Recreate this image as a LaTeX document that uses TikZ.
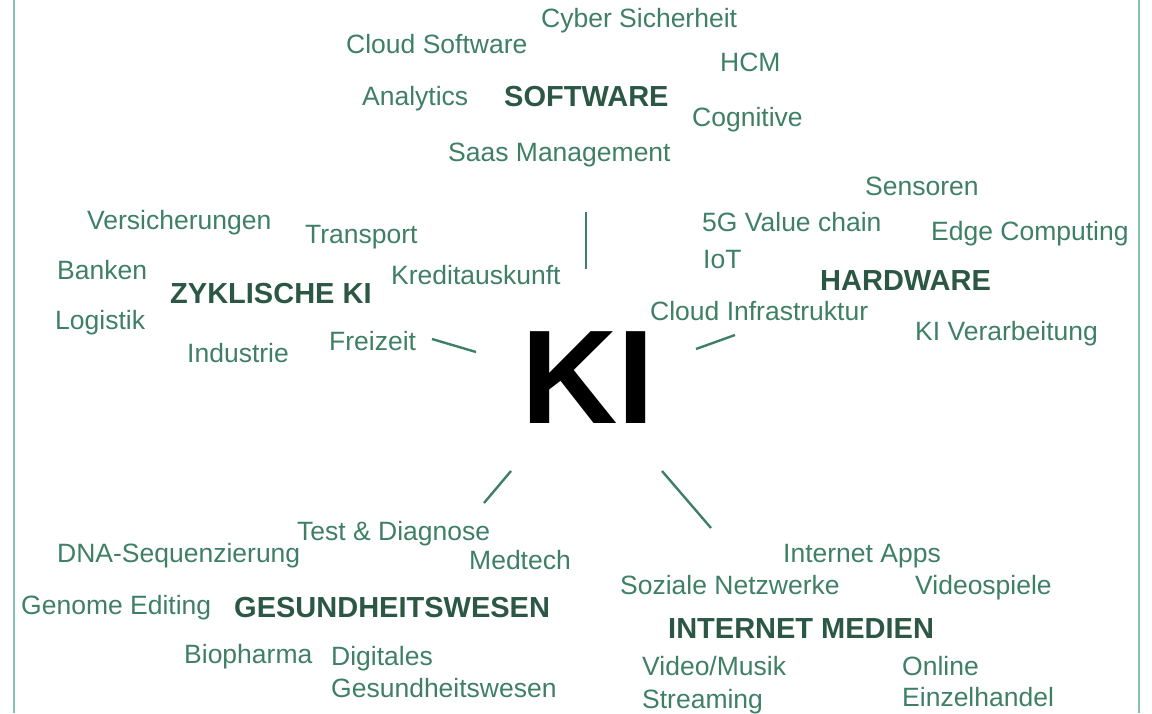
\documentclass[tikz,border=0pt]{standalone}
\usepackage{fontspec}
\setmainfont{Liberation Sans}
\definecolor{tg}{HTML}{3E7F66}
\definecolor{hg}{HTML}{2B5744}
\definecolor{bg}{HTML}{86C2AA}
\begin{document}
\begin{tikzpicture}[x=1pt,y=-1pt,
  lbl/.style={anchor=base west,inner sep=0pt,text=tg,font=\fontsize{26.5}{30}\selectfont},
  head/.style={anchor=base west,inner sep=0pt,text=hg,font=\fontsize{29}{33}\selectfont\bfseries},
  ray/.style={draw=tg,line width=2.4pt},
  frame/.style={draw=bg,line width=2pt}]
\useasboundingbox (0,0) rectangle (1152,713);
% border lines
\coordinate (bl1) at (14,0); \coordinate (bl2) at (14,713);
\coordinate (br1) at (1139,0); \coordinate (br2) at (1139,713);
\draw[frame] (bl1) -- (bl2);
\draw[frame] (br1) -- (br2);
% center
\node[anchor=base west,inner sep=0pt,font=\fontsize{133.5}{140}\selectfont\bfseries] (ki) at (521,423) {KI};
% software
\node[lbl] (cyber) at (541,27) {Cyber Sicherheit};
\node[lbl] (cloudsw) at (346,53) {Cloud Software};
\node[lbl] (hcm) at (720,71) {HCM};
\node[lbl] (analytics) at (362,105) {Analytics};
\node[head] (software) at (504,106) {SOFTWARE};
\node[lbl] (cognitive) at (692,126) {Cognitive};
\node[lbl] (saas) at (448,161) {Saas Management};
% hardware
\node[lbl] (sensoren) at (865,195) {Sensoren};
\node[lbl] (fiveg) at (702,231) {5G Value chain};
\node[lbl] (edge) at (931,240) {Edge Computing};
\node[lbl] (iot) at (703,268) {IoT};
\node[head] (hardware) at (820,290) {HARDWARE};
\node[lbl] (cloudinf) at (650,320) {Cloud Infrastruktur};
\node[lbl] (kiverarb) at (915,340) {KI Verarbeitung};
% zyklische
\node[lbl] (versich) at (87,229) {Versicherungen};
\node[lbl] (transport) at (305,243) {Transport};
\node[lbl] (banken) at (57,279) {Banken};
\node[head] (zykl) at (170,303) {ZYKLISCHE KI};
\node[lbl] (kredit) at (391,284) {Kreditauskunft};
\node[lbl] (logistik) at (55,329) {Logistik};
\node[lbl] (freizeit) at (329,350) {Freizeit};
\node[lbl] (industrie) at (187,362) {Industrie};
% gesundheit
\node[lbl] (test) at (297,540) {Test \& Diagnose};
\node[lbl] (dna) at (57,562) {DNA-Sequenzierung};
\node[lbl] (medtech) at (469,569) {Medtech};
\node[lbl] (genome) at (21,614) {Genome Editing};
\node[head] (gesund) at (234,617) {GESUNDHEITSWESEN};
\node[lbl] (bio) at (184,663) {Biopharma};
\node[lbl] (digi) at (331,665) {Digitales};
\node[lbl] (gesund2) at (331,697) {Gesundheitswesen};
% internet
\node[lbl] (iapps) at (783,562) {Internet Apps};
\node[lbl] (sozial) at (620,594) {Soziale Netzwerke};
\node[lbl] (video) at (915,594) {Videospiele};
\node[head] (internet) at (668,638) {INTERNET MEDIEN};
\node[lbl] (vm) at (642,675) {Video/Musik};
\node[lbl] (stream) at (642,708) {Streaming};
\node[lbl] (online) at (902,675) {Online};
\node[lbl] (einzel) at (902,706) {Einzelhandel};
% rays
\coordinate (r1a) at (586,212); \coordinate (r1b) at (586,269);
\coordinate (r2a) at (696,349); \coordinate (r2b) at (735,335);
\coordinate (r3a) at (432,339); \coordinate (r3b) at (476,352);
\coordinate (r4a) at (511,471); \coordinate (r4b) at (484,503);
\coordinate (r5a) at (662,471); \coordinate (r5b) at (711,528);
\draw[ray] (r1a) -- (r1b);
\draw[ray] (r2a) -- (r2b);
\draw[ray] (r3a) -- (r3b);
\draw[ray] (r4a) -- (r4b);
\draw[ray] (r5a) -- (r5b);
\end{tikzpicture}
\end{document}
